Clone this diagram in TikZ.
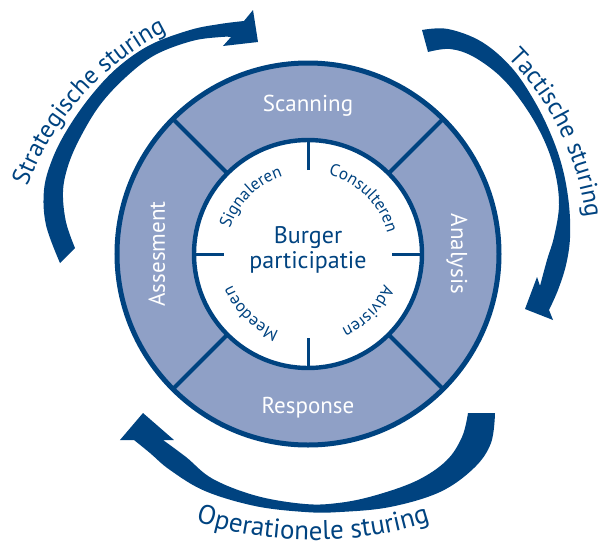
\documentclass[tikz,border=0pt]{standalone}
\usepackage{fontspec}
\setmainfont{PT Sans}
\usetikzlibrary{decorations.text}
\definecolor{cyclusblue}{RGB}{0,67,128}
\definecolor{ringblue}{RGB}{143,160,198}

\begin{document}
\begin{tikzpicture}[x=0.5pt,y=0.5pt,
  ringline/.style={draw=cyclusblue,line width=2.5pt},
  divider/.style={draw=cyclusblue,line width=2pt},
  tickline/.style={draw=cyclusblue,line width=1.5pt},
  phase/.style={text=white,font=\fontsize{11.5}{13}\selectfont,anchor=base,inner sep=0pt},
  swoosh/.style={fill=cyclusblue},
  inlabel/.style={decorate,decoration={text along path,text align=center,
    text={|\fontsize{8.5}{10}\selectfont\color{cyclusblue}|#1}}},
  outlabel/.style={decorate,decoration={text along path,text align=center,
    text={|\fontsize{12.5}{14}\selectfont\color{cyclusblue}|#1}}},
  baselabel/.style={decorate,decoration={text along path,text align=center,
    text={|\fontsize{13.5}{15}\selectfont\color{cyclusblue}|#1}}}]
\useasboundingbox (-308,-293) rectangle (302,254);
% ring with four phases
\fill[ringblue] (0,0) circle[radius=191];
\fill[white] (0,0) circle[radius=114];
\foreach \a in {45,135,225,315}{\draw[divider] (\a:114) -- (\a:191);}
\foreach \a in {0,90,180,270}{\draw[tickline] (\a:84) -- (\a:114);}
\draw[ringline] (0,0) circle[radius=191];
\draw[ringline,line width=2.2pt] (0,0) circle[radius=114];
\node[phase] (scan) at (0,143) {Scanning};
\node[phase,rotate=-90] (anal) at (143,0) {Analysis};
\node[phase] (resp) at (0,-159) {Response};
\node[phase,rotate=90] (asse) at (-143,0) {Assesment};
\node[align=center,text=cyclusblue,font=\fontsize{12}{12.5}\selectfont] (bp) at (0,4) {Burger\\participatie};
% inner labels
\path[inlabel=Signaleren] (175:82) arc[start angle=175,end angle=95,radius=82];
\path[inlabel=Consulteren] (85:82) arc[start angle=85,end angle=5,radius=82];
\path[inlabel=Advisren] (-4:82) arc[start angle=-4,end angle=-84,radius=82];
\path[inlabel=Meedoen] (-94:82) arc[start angle=-94,end angle=-174,radius=82];
% steering arrows
\begin{scope}[shift={(-308,254)},yscale=-1]
\fill[swoosh] plot[smooth,tension=0.6] coordinates {(60,263) (46,225) (44,190) (52,160) (67,130) (90,97) (117,68) (150,45) (190,30) (220,24) (244,21)}
  -- (253,10) -- (258,42) -- (223,46) -- (231,37)
  -- plot[smooth,tension=0.6] coordinates {(231,37) (221,37) (192,41) (155,55) (126,77) (100,105) (80,138) (68,166) (63,192) (66,222) (75,248)} -- cycle;
\fill[swoosh] plot[smooth,tension=0.6] coordinates {(422,30) (448,29) (482,42) (512,68) (535,102) (552,137) (563,170) (569,205) (570,238) (566,265) (558,290) (549,310)}
  -- (553,320) -- (525,309) -- (537,277) -- (540,286)
  -- plot[smooth,tension=0.6] coordinates {(540,286) (547,260) (554,237) (559,205) (555,172) (544,140) (526,108) (502,78) (474,57) (450,49) (428,52)} -- cycle;
\fill[swoosh] plot[smooth,tension=0.6] coordinates {(495,413) (491,443) (474,468) (440,492) (390,507) (340,512) (305,512) (255,506) (205,491) (170,470) (150,453) (134,440)}
  -- (120,440) -- (143,413) -- (174,440) -- (163,440)
  -- plot[smooth,tension=0.6] coordinates {(163,440) (186,457) (213,479) (257,496) (305,504) (338,503) (373,496) (416,481) (446,461) (462,437) (468,413)} -- cycle;
\end{scope}
% steering labels
\path[outlabel=Strategische sturing] (-282.5,63.2) arc[start angle=160,end angle=116,radius=290];
\path[outlabel=Tactische sturing] (194.6,201.4) arc[start angle=46,end angle=6,radius=280];
\path[baselabel=Operationele sturing] (-127.0,-262.7) arc[start angle=250,end angle=290,radius=386];
\end{tikzpicture}
\end{document}
